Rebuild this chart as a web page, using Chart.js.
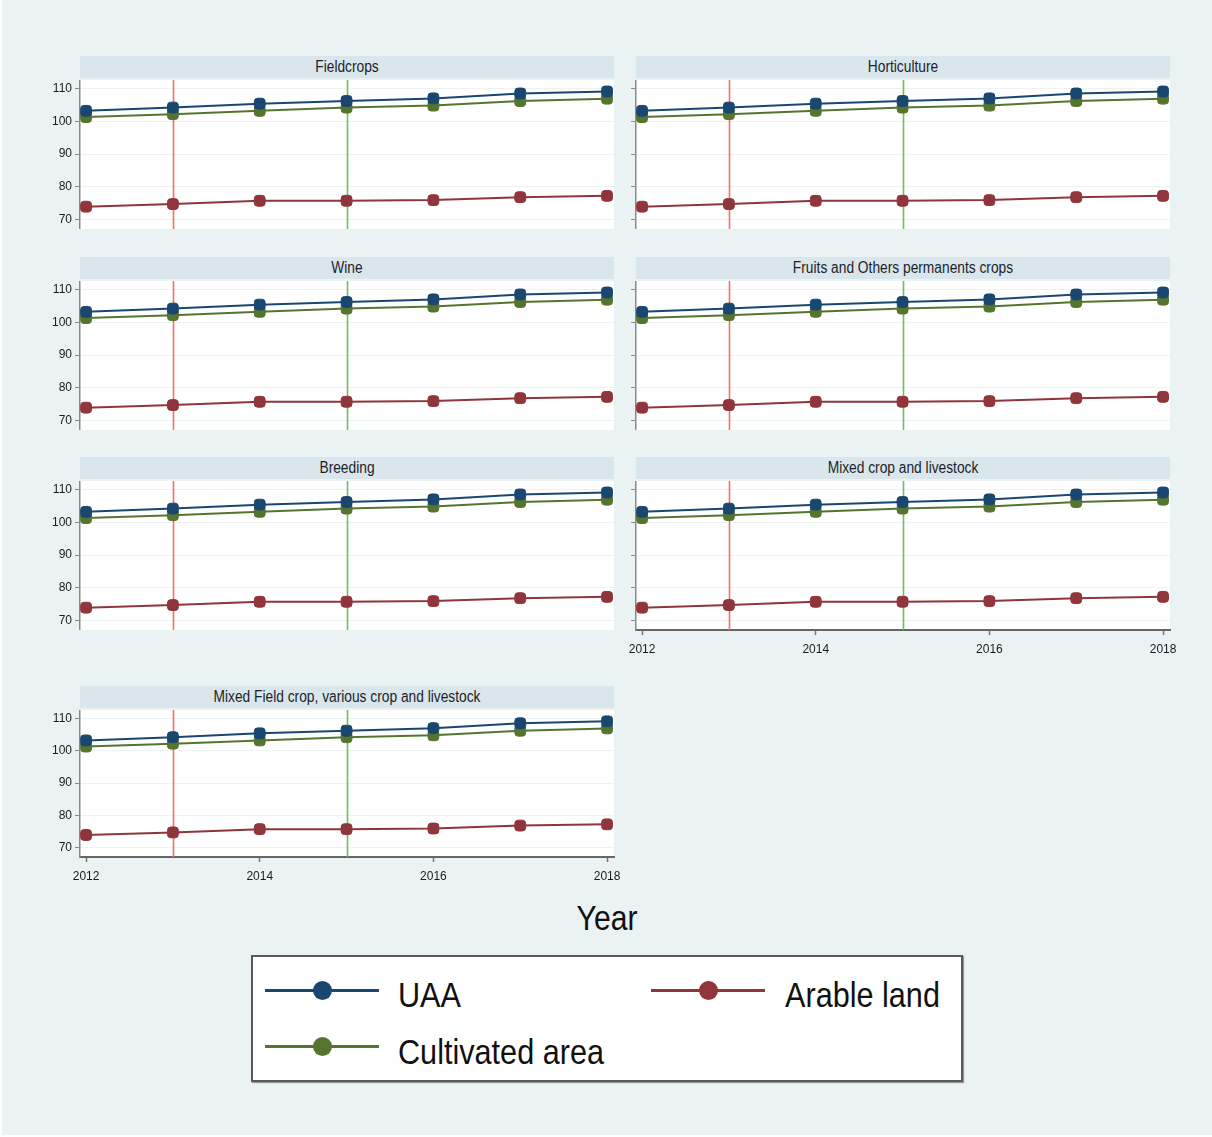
<!DOCTYPE html>
<html>
<head>
<meta charset="utf-8">
<script src="https://cdn.jsdelivr.net/npm/chart.js@4.4.1/dist/chart.umd.min.js"></script>
<style>
  html, body { margin:0; padding:0; background:#ffffff; }
  body { width:1212px; height:1137px; position:relative; overflow:hidden; font-family:"Liberation Sans", Arial, sans-serif; }
  #bg { position:absolute; left:2px; top:0; width:1210px; height:1135px; background:#EAF2F3; }
  .strip { position:absolute; height:22px; background:#D9E6EB; overflow:hidden; }
  .strip span { position:absolute; left:0; right:0; top:0; line-height:22px; text-align:center; font-size:16px; color:#1e1e2a; transform:scaleX(0.86); transform-origin:center; white-space:nowrap; }
  canvas { position:absolute; }
  #year { position:absolute; left:507px; width:200px; top:900px; line-height:35px; font-size:35px; text-align:center; color:#111; transform:scaleX(0.86); transform-origin:center; }
  #legend { position:absolute; left:251px; top:955px; width:708px; height:123px; background:#fff; border:2px solid #5a5a5a; box-shadow:1px 1px 1px #9a9a9a; }
  .lg-line { position:absolute; height:3px; width:114px; }
  .lg-dot { position:absolute; width:19px; height:19px; border-radius:50%; }
  .lg-text { position:absolute; font-size:35px; line-height:35px; color:#111; transform:scaleX(0.875); transform-origin:left center; white-space:nowrap; }
</style>
</head>
<body>
<div id="bg"></div>
<div id="panels"></div>
<div id="year">Year</div>
<div id="legend"></div>
<script>
// ---- data ----
const years = [2012, 2013, 2014, 2015, 2016, 2017, 2018];
const uaa = [103.2, 104.2, 105.4, 106.2, 107.0, 108.5, 109.1];
const arable = [74.0, 74.8, 75.8, 75.8, 76.0, 76.9, 77.3];
const cultivated = [101.3, 102.2, 103.2, 104.2, 104.8, 106.2, 106.9];
const panelTitles = ["Fieldcrops", "Horticulture", "Wine", "Fruits and Others permanents crops", "Breeding", "Mixed crop and livestock", "Mixed Field crop, various crop and livestock"];
const yTicks = [70, 80, 90, 100, 110];
const xTicks = [2012, 2014, 2016, 2018];
const refYears = [2013, 2015];
const seriesNames = ["UAA", "Arable land", "Cultivated area"];
const xAxisTitle = "Year";

// ---- styles / layout ----
const seriesColors = ["#1A476F", "#90353B", "#55752F"];
const refColors = ["#FF6A6A", "#6CBF5C"];
const colLeft = [20, 576];
const rowTop = [80, 281, 481, 710];
const rowH = [149, 149, 149, 147];
const bottomPanels = [5, 6];
const canvasW = 610;
const padRight = 16;
const yAxisW = 60;
const xAxisH = 32;
const yMin = 67.2, yMax = 112.6;
const xMin = 2011.93, xMax = 2018.08;

const whiteArea = {
  id: 'whiteArea',
  beforeDraw(c) {
    const a = c.chartArea, ctx = c.ctx;
    ctx.save();
    ctx.fillStyle = '#ffffff';
    ctx.fillRect(a.left, a.top, a.right - a.left, a.bottom - a.top);
    ctx.restore();
  }
};
const refLines = {
  id: 'refLines',
  beforeDatasetsDraw(c) {
    const a = c.chartArea, ctx = c.ctx, xs = c.scales.x;
    ctx.save();
    refYears.forEach((yr, i) => {
      const px = Math.round(xs.getPixelForValue(yr)) + 0.5;
      ctx.strokeStyle = refColors[i];
      ctx.lineWidth = 1.6;
      ctx.beginPath();
      ctx.moveTo(px, a.top);
      ctx.lineTo(px, a.bottom);
      ctx.stroke();
    });
    ctx.restore();
  }
};

const panelsDiv = document.getElementById('panels');
panelTitles.forEach((title, idx) => {
  const col = idx % 2, row = Math.floor(idx / 2);
  const hasX = bottomPanels.includes(idx);
  const left = colLeft[col], top = rowTop[row], h = rowH[row] + (hasX ? xAxisH : 0);

  const strip = document.createElement('div');
  strip.className = 'strip';
  strip.style.left = (left + yAxisW) + 'px';
  strip.style.width = (canvasW - yAxisW - padRight) + 'px';
  strip.style.top = (top - 24) + 'px';
  const sp = document.createElement('span');
  sp.textContent = title;
  strip.appendChild(sp);
  panelsDiv.appendChild(strip);

  const cv = document.createElement('canvas');
  cv.width = canvasW; cv.height = h;
  cv.style.left = left + 'px'; cv.style.top = top + 'px';
  cv.style.width = canvasW + 'px'; cv.style.height = h + 'px';
  panelsDiv.appendChild(cv);

  const series = [uaa, arable, cultivated];
  new Chart(cv.getContext('2d'), {
    type: 'line',
    data: {
      datasets: series.map((s, i) => ({
        label: seriesNames[i],
        data: years.map((yr, j) => ({ x: yr, y: s[j] })),
        borderColor: seriesColors[i],
        backgroundColor: seriesColors[i],
        pointBackgroundColor: seriesColors[i],
        pointBorderColor: seriesColors[i],
        pointStyle: 'rectRounded',
        borderWidth: 2,
        pointRadius: 6.3,
        pointBorderWidth: 1,
        tension: 0,
        clip: false
      }))
    },
    options: {
      responsive: false,
      animation: false,
      devicePixelRatio: 1,
      layout: { autoPadding: false, padding: { left: 0, right: padRight, top: 0, bottom: 0 } },
      plugins: { legend: { display: false }, tooltip: { enabled: false } },
      scales: {
        x: {
          type: 'linear', min: xMin, max: xMax,
          display: hasX,
          afterBuildTicks: s => { s.ticks = xTicks.map(v => ({ value: v })); },
          afterFit: s => { if (hasX) s.height = xAxisH; else s.height = 0; },
          ticks: { callback: v => String(v), color: '#1a1a22', font: { size: 12, family: 'Liberation Sans' }, padding: 7, maxRotation: 0, autoSkip: false },
          grid: { drawOnChartArea: false, drawTicks: true, tickLength: 5, tickColor: '#777', tickWidth: 1.5 },
          border: { display: true, color: '#666', width: 2 }
        },
        y: {
          type: 'linear', min: yMin, max: yMax,
          afterBuildTicks: s => { s.ticks = yTicks.map(v => ({ value: v })); },
          afterFit: s => { s.width = yAxisW; s.paddingTop = 0; s.paddingBottom = 0; },
          ticks: { display: col === 0, callback: v => String(v), color: '#1a1a22', font: { size: 12, family: 'Liberation Sans' }, padding: 3 },
          grid: { color: '#EDF2F2', lineWidth: 1, drawTicks: true, tickLength: 5, tickColor: '#8a8a8a', tickWidth: 1 },
          border: { display: true, color: '#8a8a8a', width: 1.5 }
        }
      }
    },
    plugins: [whiteArea, refLines]
  });
});

// ---- legend ----
document.getElementById('year').textContent = xAxisTitle;
const legend = document.getElementById('legend');
const legendItems = [
  { name: seriesNames[0], color: seriesColors[0], lineX: 265, textX: 398, cy: 990 },
  { name: seriesNames[1], color: seriesColors[1], lineX: 651, textX: 785, cy: 990 },
  { name: seriesNames[2], color: seriesColors[2], lineX: 265, textX: 398, cy: 1046.5 }
];
const lgLeft = 253, lgTop = 957; // inner origin of legend box
legendItems.forEach(it => {
  const ln = document.createElement('div');
  ln.className = 'lg-line';
  ln.style.background = it.color;
  ln.style.left = (it.lineX - lgLeft) + 'px';
  ln.style.top = (it.cy - 1.5 - lgTop) + 'px';
  legend.appendChild(ln);
  const dot = document.createElement('div');
  dot.className = 'lg-dot';
  dot.style.background = it.color;
  dot.style.left = (it.lineX + 57 - 9.5 - lgLeft) + 'px';
  dot.style.top = (it.cy - 9.5 - lgTop) + 'px';
  legend.appendChild(dot);
  const tx = document.createElement('div');
  tx.className = 'lg-text';
  tx.textContent = it.name;
  tx.style.left = (it.textX - lgLeft) + 'px';
  tx.style.top = (it.cy - 13 - lgTop) + 'px';
  legend.appendChild(tx);
});
</script>
</body>
</html>
